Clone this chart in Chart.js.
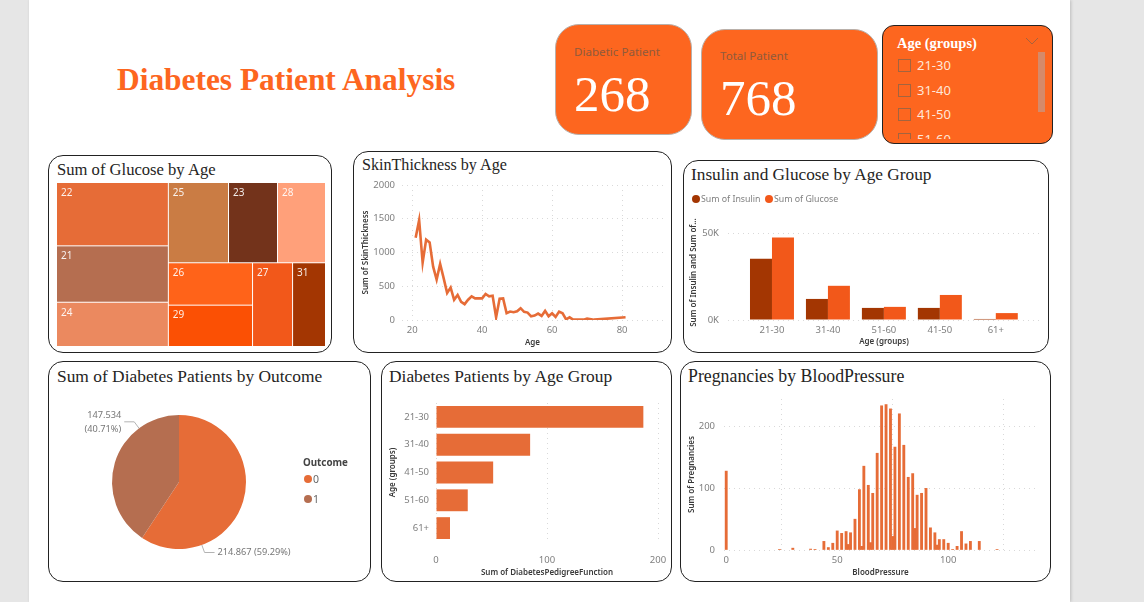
<!DOCTYPE html>
<html>
<head>
<meta charset="utf-8">
<title>Diabetes Patient Analysis</title>
<script src="https://cdn.jsdelivr.net/npm/chart.js@4"></script>
<style>
html,body{margin:0;padding:0;width:1144px;height:602px;overflow:hidden;background:#e6e6e6;}
#page{position:absolute;left:29px;top:0;width:1041px;height:602px;background:#fff;box-shadow:1px 0 3px rgba(0,0,0,.18);}
.abs{position:absolute;white-space:nowrap;}
.panel{position:absolute;box-sizing:border-box;border:1.4px solid #222;border-radius:15px;background:#fff;}
.title{position:absolute;white-space:nowrap;font:17.3px "Liberation Serif",serif;color:#252423;line-height:20px;}
.card{position:absolute;box-sizing:border-box;background:#fd661f;border:1px solid #b9b0aa;border-radius:24px;}
.cardlabel{position:absolute;white-space:nowrap;font:11.6px "Noto Sans",sans-serif;color:#8f5a3c;line-height:14px;}
.cardvalue{position:absolute;white-space:nowrap;font:51px "Liberation Serif",serif;color:#fff;line-height:50px;}
canvas{position:absolute;}
.dot{position:absolute;width:8px;height:8px;border-radius:50%;}
.legtext{position:absolute;white-space:nowrap;font:8.8px "Noto Sans",sans-serif;color:#808080;line-height:12px;}
#outcomeLegend .legtext{font-size:10.5px;color:#666;}
#slicer{position:absolute;left:882px;top:25px;width:171px;height:119px;box-sizing:border-box;border:1.4px solid #222;border-radius:12px;background:#fd661f;overflow:hidden;}
#slicerItems{position:absolute;left:0;top:0;width:150px;height:113px;overflow:hidden;}
.box{position:absolute;left:15px;width:13px;height:13px;box-sizing:border-box;border:1px solid #a3643f;}
.item{position:absolute;left:34px;white-space:nowrap;font:13px "Noto Sans",sans-serif;color:#ffe6d8;line-height:16px;}
</style>
</head>
<body>
<div id="page"></div>

<div class="abs" style="left:117px;top:62px;font:bold 31.4px 'Liberation Serif',serif;color:#fd661f;line-height:36px;">Diabetes Patient Analysis</div>

<div class="card" style="left:555px;top:24px;width:137px;height:111px;"></div>
<div class="cardlabel" style="left:574px;top:45px;">Diabetic Patient</div>
<div class="cardvalue" id="diabeticValue" style="left:574px;top:69px;"></div>
<div class="card" style="left:701px;top:29px;width:177px;height:111px;"></div>
<div class="cardlabel" style="left:720px;top:49px;">Total Patient</div>
<div class="cardvalue" id="totalValue" style="left:720px;top:73px;"></div>

<div id="slicer">
  <div class="abs" style="left:14px;top:9px;font:bold 14.5px 'Liberation Serif',serif;color:#fff;line-height:17px;">Age (groups)</div>
  <svg class="abs" style="left:142px;top:11px;" width="14" height="8"><path d="M1 1 L7 7 L13 1" fill="none" stroke="#a8623c" stroke-width="1"/></svg>
  <div class="abs" style="left:155px;top:26px;width:7px;height:60px;background:#d58a6a;"></div>
  <div id="slicerItems"></div>
</div>

<div class="panel" style="left:48px;top:155px;width:284px;height:198px;"></div>
<div class="title" style="left:57px;top:160px;font-size:16.6px;">Sum of Glucose by Age</div>
<canvas id="treemapChart" width="284" height="198" style="left:48px;top:155px;"></canvas>

<div class="panel" style="left:353px;top:151px;width:319px;height:202px;"></div>
<div class="title" style="left:362px;top:155px;font-size:16.1px;">SkinThickness by Age</div>
<canvas id="skinChart" width="319" height="202" style="left:353px;top:151px;"></canvas>

<div class="panel" style="left:683px;top:160px;width:366px;height:193px;"></div>
<div class="title" style="left:691px;top:165px;">Insulin and Glucose by Age Group</div>
<canvas id="insulinChart" width="366" height="193" style="left:683px;top:160px;"></canvas>
<div id="insulinLegend"></div>

<div class="panel" style="left:48px;top:361px;width:323px;height:221px;"></div>
<div class="title" style="left:57px;top:366px;font-size:17.4px;">Sum of Diabetes Patients by Outcome</div>
<canvas id="outcomeChart" width="323" height="221" style="left:48px;top:361px;"></canvas>
<div class="abs" style="left:303px;top:457px;font:bold 9.8px 'Noto Sans',sans-serif;color:#444;line-height:12px;">Outcome</div>
<div id="outcomeLegend"></div>

<div class="panel" style="left:381px;top:361px;width:291px;height:221px;"></div>
<div class="title" style="left:389px;top:366px;font-size:17.4px;">Diabetes Patients by Age Group</div>
<canvas id="pedigreeChart" width="291" height="221" style="left:381px;top:361px;"></canvas>

<div class="panel" style="left:680px;top:361px;width:371px;height:221px;"></div>
<div class="title" style="left:688px;top:366px;font-size:17.8px;">Pregnancies by BloodPressure</div>
<canvas id="pregChart" width="371" height="221" style="left:680px;top:361px;"></canvas>

<script>
// values
const diabeticPatients = 268
const totalPatients = 768
const slicerGroups = ['21-30','31-40','41-50','51-60']

const treemapAges =   [22,21,24,25,23,28,26,29,27,31]
const treemapValues = [8200,7300,5730,5590,4550,4460,4130,4030,3880,3190]
const treemapColors = ['#E66C37','#B56E50','#EB895F','#CA7C44','#73331B','#FFA07A','#FF6319','#FB5004','#F2581A','#A33602']

const skinAges = [21,22,23,24,25,26,27,28,29,30,31,32,33,34,35,36,37,38,39,40,41,42,43,44,45,46,47,48,49,50,51,52,53,54,55,56,57,58,59,60,61,62,63,64,65,66,67,68,69,70,72,81]
const skinValues = [1220,1480,850,1190,1150,790,600,830,620,400,480,300,370,270,235,300,350,320,320,320,385,350,360,40,315,320,100,125,115,130,175,120,110,55,65,95,60,135,55,100,45,125,100,10,40,5,5,5,5,20,5,40]

const insulinGroups = ['21-30','31-40','51-60','41-50','61+']
const sumInsulin = [35500,12200,7000,7000,600]
const sumGlucose = [47700,19800,7600,14500,4000]

const outcomeLabels = ['0','1']
const outcomeValues = [214867,147534]
const outcomeText = ['214.867 (59.29%)','147.534\n(40.71%)']
const outcomeColors = ['#E66C37','#B56E50']

const pedigreeGroups = ['21-30','31-40','41-50','51-60','61+']
const pedigreeValues = [186.8,84.8,51.5,28.6,12.6]

const bloodPressure = [0,24,30,38,40,44,46,48,50,52,54,55,56,58,60,61,62,64,65,66,68,70,72,74,75,76,78,80,82,84,85,86,88,90,92,94,95,96,98,100,102,104,106,108,110,114,122]
const pregnancies = [128,1,3,1.5,0.5,14,4,11,31,27,30,9,28,50,98,6,136,105,12,92,157,234,236,229,22,167,221,170,118,124,35,89,92,100,36,28,8,17,17,11,1,6,30,10,14,14,1]

const ORANGE = '#E66C37'
const TICK_FONT = {family:'"Noto Sans"',size:9.5}
const TITLE_FONT = {family:'"Noto Sans"',size:8,weight:'600'}
const TICK_COLOR = '#7f7f7f'
const TITLE_COLOR = '#3a3a3a'
const DOT_GRID = {color:'#d9d9d9',lineWidth:1,drawTicks:false}
const DOT_BORDER = {display:false,dash:[1,4]}
const NO_GRID = {drawOnChartArea:false,drawTicks:false}

Chart.defaults.animation = false
Chart.defaults.responsive = false
Chart.defaults.plugins.legend.display = false
Chart.defaults.plugins.tooltip.enabled = false

document.getElementById('diabeticValue').textContent = diabeticPatients
document.getElementById('totalValue').textContent = totalPatients

slicerGroups.forEach((g,i) => {
    const top = 33 + i*24.5
    document.getElementById('slicerItems').insertAdjacentHTML('beforeend',
        `<div class="box" style="top:${top}px"></div><div class="item" style="top:${top-2}px">${g}</div>`)
})

function addLegend(id,labels,colors,place) {
    const host = document.getElementById(id)
    labels.forEach((l,i) => {
        const p = place(i)
        host.insertAdjacentHTML('beforeend',
            `<div class="dot" style="left:${p.x}px;top:${p.y}px;background:${colors[i]}"></div>` +
            `<div class="legtext" style="left:${p.x+9}px;top:${p.y-2}px">${l}</div>`)
    })
}
addLegend('insulinLegend',['Sum of Insulin','Sum of Glucose'],['#A33602','#F2581A'],i => ({x:692+i*73,y:195}))
addLegend('outcomeLegend',outcomeLabels,outcomeColors,i => ({x:304,y:475+i*20}))

function sizeAxis(w,h) {
    return scale => {
        if (w !== undefined) scale.width = w
        if (h !== undefined) scale.height = h
    }
}

// treemap: nested rows / columns, cell sizes come from the values
const treemapTree = {dir:'col',kids:[
    {dir:'row',kids:[0,1,2]},
    {dir:'row',kids:[
        {dir:'col',kids:[3,4,5]},
        {dir:'col',kids:[{dir:'row',kids:[6,7]},8,9]}
    ]}
]}
function nodeSum(n) {
    return typeof n === 'number' ? treemapValues[n] : n.kids.reduce((a,k) => a + nodeSum(k),0)
}
function layoutNode(n,x0,x1,y0,y1,out) {
    if (typeof n === 'number') { out.push({i:n,x0,x1,y0,y1}); return }
    const total = nodeSum(n)
    let pos = n.dir === 'col' ? x0 : y0
    const span = n.dir === 'col' ? x1 - x0 : y1 - y0
    n.kids.forEach(k => {
        const next = pos + span*nodeSum(k)/total
        if (n.dir === 'col') layoutNode(k,pos,next,y0,y1,out)
        else layoutNode(k,x0,x1,pos,next,out)
        pos = next
    })
}
const treemapPlugin = {
    id:'treemap',
    beforeDatasetsDraw(chart) {
        const {ctx,scales:{x,y}} = chart
        const cells = []
        layoutNode(treemapTree,0,1,0,1,cells)
        cells.forEach(c => {
            const l = x.getPixelForValue(c.x0), r = x.getPixelForValue(c.x1)
            const t = y.getPixelForValue(c.y0), b = y.getPixelForValue(c.y1)
            ctx.fillStyle = treemapColors[c.i]
            ctx.fillRect(l,t,r-l-1,b-t-1)
            ctx.fillStyle = 'rgba(255,255,255,.9)'
            ctx.font = '10px "Noto Sans"'
            ctx.textBaseline = 'middle'
            ctx.fillText(treemapAges[c.i],l+4,t+10)
        })
    }
}
new Chart(document.getElementById('treemapChart'),{
    type:'bar',
    data:{labels:treemapAges,datasets:[{data:[]}]},
    plugins:[treemapPlugin],
    options:{
        layout:{padding:{left:9,right:6,top:28,bottom:6}},
        scales:{
            x:{type:'linear',min:0,max:1,offset:false,display:false},
            y:{type:'linear',min:0,max:1,reverse:true,display:false}
        }
    }
})

new Chart(document.getElementById('skinChart'),{
    type:'line',
    data:{datasets:[{
        data:skinAges.map((a,i) => ({x:a,y:skinValues[i]})),
        borderColor:ORANGE,borderWidth:2.6,pointRadius:0,tension:0
    }]},
    options:{
        layout:{padding:{left:8,right:9,top:34,bottom:5}},
        scales:{
            x:{type:'linear',min:17.1,max:91.7,
               afterFit:sizeAxis(undefined,28),
               grid:DOT_GRID,border:DOT_BORDER,
               ticks:{stepSize:20,includeBounds:false,font:TICK_FONT,color:TICK_COLOR,padding:5,maxRotation:0},
               title:{display:true,text:'Age',font:TITLE_FONT,color:TITLE_COLOR,padding:0}},
            y:{min:0,max:2000,
               afterFit:sizeAxis(41),
               grid:DOT_GRID,border:DOT_BORDER,
               ticks:{stepSize:500,font:TICK_FONT,color:TICK_COLOR,padding:7,callback:v => String(v)},
               title:{display:true,text:'Sum of SkinThickness',font:TITLE_FONT,color:TITLE_COLOR,padding:0}}
        }
    }
})

new Chart(document.getElementById('insulinChart'),{
    type:'bar',
    data:{datasets:[
        {data:sumInsulin.map((v,i) => ({x:i,y:v})),backgroundColor:'#A33602',categoryPercentage:.786,barPercentage:1},
        {data:sumGlucose.map((v,i) => ({x:i,y:v})),backgroundColor:'#F2581A',categoryPercentage:.786,barPercentage:1}
    ]},
    options:{
        layout:{padding:{left:6,right:9,top:65,bottom:6}},
        scales:{
            x:{type:'linear',min:-.786,max:4.79,offset:false,
               afterFit:sizeAxis(undefined,27),
               grid:NO_GRID,border:{display:false},
               ticks:{stepSize:1,includeBounds:false,font:TICK_FONT,color:TICK_COLOR,padding:5,maxRotation:0,
                      callback:v => insulinGroups[v]},
               title:{display:true,text:'Age (groups)',font:TITLE_FONT,color:TITLE_COLOR,padding:0}},
            y:{min:0,max:55000,
               afterFit:sizeAxis(39),
               afterBuildTicks:s => { s.ticks = [{value:0},{value:50000}] },
               grid:DOT_GRID,border:DOT_BORDER,
               ticks:{font:TICK_FONT,color:TICK_COLOR,padding:9,callback:v => (v/1000)+'K'},
               title:{display:true,text:'Sum of Insulin and Sum of...',font:TITLE_FONT,color:TITLE_COLOR,padding:0}}
        }
    }
})

// pie labels with their leader lines, anchored on the arc elements
const LABEL_ANCHOR = .75
const pieLabelPlugin = {
    id:'pieLabels',
    afterDatasetsDraw(chart) {
        const {ctx} = chart
        chart.getDatasetMeta(0).data.forEach((arc,i) => {
            const a = arc.startAngle + (arc.endAngle - arc.startAngle)*LABEL_ANCHOR
            const ax = arc.x + Math.cos(a)*arc.outerRadius, ay = arc.y + Math.sin(a)*arc.outerRadius
            const side = Math.cos(a) >= 0 ? 1 : -1
            const ex = ax + Math.cos(a)*8, ey = ay + Math.sin(a)*8
            const hx = ex + side*10
            ctx.strokeStyle = '#b3b3b3'
            ctx.lineWidth = 1
            ctx.beginPath()
            ctx.moveTo(ax,ay)
            ctx.lineTo(ex,ey)
            ctx.lineTo(hx,ey)
            ctx.stroke()
            ctx.fillStyle = '#777'
            ctx.font = '9.2px "Noto Sans"'
            ctx.textBaseline = 'middle'
            ctx.textAlign = side > 0 ? 'left' : 'right'
            const lines = outcomeText[i].split('\n')
            const y0 = ey - (lines.length - 1)*6
            lines.forEach((ln,j) => ctx.fillText(ln,hx + side*3,y0 + j*14))
        })
    }
}
new Chart(document.getElementById('outcomeChart'),{
    type:'pie',
    data:{labels:outcomeLabels,datasets:[{
        data:outcomeValues,backgroundColor:outcomeColors,borderWidth:0
    }]},
    plugins:[pieLabelPlugin],
    options:{
        layout:{padding:{left:64,right:125,top:54,bottom:33}}
    }
})

new Chart(document.getElementById('pedigreeChart'),{
    type:'bar',
    data:{labels:pedigreeGroups,datasets:[{
        data:pedigreeValues,backgroundColor:ORANGE,categoryPercentage:.786,barPercentage:1
    }]},
    options:{
        indexAxis:'y',
        layout:{padding:{left:7,right:14,top:42,bottom:4}},
        scales:{
            x:{min:0,max:200,
               afterFit:sizeAxis(undefined,36),
               grid:{color:'#d9d9d9',lineWidth:1,tickColor:'transparent',tickLength:8},border:DOT_BORDER,
               ticks:{stepSize:100,font:TICK_FONT,color:TICK_COLOR,padding:5,maxRotation:0},
               title:{display:true,text:'Sum of DiabetesPedigreeFunction',font:TITLE_FONT,color:TITLE_COLOR,padding:0}},
            y:{afterFit:sizeAxis(48),
               grid:NO_GRID,border:{display:false},
               ticks:{font:TICK_FONT,color:TICK_COLOR,padding:7},
               title:{display:true,text:'Age (groups)',font:TITLE_FONT,color:TITLE_COLOR,padding:0}}
        }
    }
})

new Chart(document.getElementById('pregChart'),{
    type:'bar',
    data:{datasets:[{
        data:bloodPressure.map((b,i) => ({x:b,y:pregnancies[i]})),
        backgroundColor:ORANGE,barThickness:2.2
    }]},
    options:{
        layout:{padding:{left:7,right:14,top:38,bottom:4}},
        scales:{
            x:{type:'linear',min:-1,max:140,offset:false,
               afterFit:sizeAxis(undefined,28),
               grid:DOT_GRID,border:DOT_BORDER,
               ticks:{stepSize:50,includeBounds:false,font:TICK_FONT,color:TICK_COLOR,padding:5,maxRotation:0},
               title:{display:true,text:'BloodPressure',font:TITLE_FONT,color:TITLE_COLOR,padding:0}},
            y:{min:0,max:245,
               afterFit:sizeAxis(37),
               afterBuildTicks:s => { s.ticks = [{value:0},{value:100},{value:200}] },
               grid:DOT_GRID,border:DOT_BORDER,
               ticks:{font:TICK_FONT,color:TICK_COLOR,padding:9},
               title:{display:true,text:'Sum of Pregnancies',font:TITLE_FONT,color:TITLE_COLOR,padding:0}}
        }
    }
})
</script>
</body>
</html>
